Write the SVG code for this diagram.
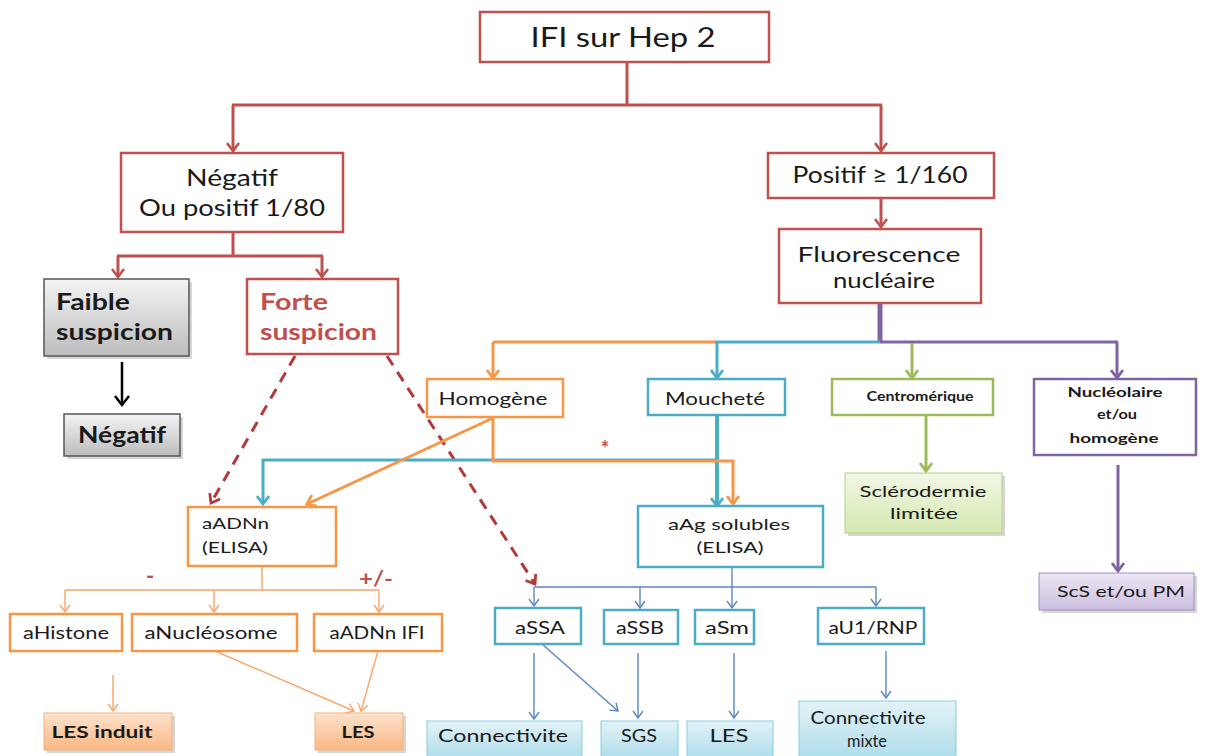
<svg xmlns="http://www.w3.org/2000/svg" width="1206" height="756" viewBox="0 0 1206 756">
<style>
text{font-family:Lato,"Open Sans","Liberation Sans",sans-serif;fill:#1a1a1a;text-anchor:middle}
.b{font-weight:bold}
.box{fill:#fff;stroke-width:2.5}
.r{stroke:#c0504d}.o{stroke:#f79646}.bl{stroke:#4bacc6}.g{stroke:#9bbb59}.p{stroke:#8064a2}
.sh{fill:#bbb;opacity:.6}
</style>
<defs>
<linearGradient id="gGray" x1="0" y1="0" x2="0" y2="1"><stop offset="0" stop-color="#f4f4f4"/><stop offset="1" stop-color="#bcbcbc"/></linearGradient>
<linearGradient id="gOr" x1="0" y1="0" x2="0" y2="1"><stop offset="0" stop-color="#fde3cc"/><stop offset="1" stop-color="#f9b784"/></linearGradient>
<linearGradient id="gBl" x1="0" y1="0" x2="0" y2="1"><stop offset="0" stop-color="#e3f3f8"/><stop offset="1" stop-color="#aedcea"/></linearGradient>
<linearGradient id="gGr" x1="0" y1="0" x2="0" y2="1"><stop offset="0" stop-color="#f2f8e6"/><stop offset="1" stop-color="#d5e8b0"/></linearGradient>
<linearGradient id="gPu" x1="0" y1="0" x2="0" y2="1"><stop offset="0" stop-color="#ede7f4"/><stop offset="1" stop-color="#cdbfe0"/></linearGradient>
<marker id="aR" viewBox="0 0 14 14" refX="12" refY="7" markerWidth="14" markerHeight="14" markerUnits="userSpaceOnUse" orient="auto"><path d="M4,1 L12,7 L4,13" fill="none" stroke="#c0504d" stroke-width="2.6"/></marker>
<marker id="aK" viewBox="0 0 16 16" refX="14" refY="8" markerWidth="16" markerHeight="16" markerUnits="userSpaceOnUse" orient="auto"><path d="M5,1 L14,8 L5,15" fill="none" stroke="#000" stroke-width="2.5"/></marker>
<marker id="aO" viewBox="0 0 14 14" refX="12" refY="7" markerWidth="14" markerHeight="14" markerUnits="userSpaceOnUse" orient="auto"><path d="M4,1 L12,7 L4,13" fill="none" stroke="#f79646" stroke-width="2.8"/></marker>
<marker id="aB" viewBox="0 0 14 14" refX="12" refY="7" markerWidth="14" markerHeight="14" markerUnits="userSpaceOnUse" orient="auto"><path d="M4,1 L12,7 L4,13" fill="none" stroke="#4bacc6" stroke-width="2.8"/></marker>
<marker id="aG" viewBox="0 0 14 14" refX="12" refY="7" markerWidth="14" markerHeight="14" markerUnits="userSpaceOnUse" orient="auto"><path d="M4,1 L12,7 L4,13" fill="none" stroke="#9bbb59" stroke-width="2.8"/></marker>
<marker id="aP" viewBox="0 0 14 14" refX="12" refY="7" markerWidth="14" markerHeight="14" markerUnits="userSpaceOnUse" orient="auto"><path d="M4,1 L12,7 L4,13" fill="none" stroke="#8064a2" stroke-width="2.8"/></marker>
<marker id="aRd" viewBox="0 0 14 14" refX="12" refY="7" markerWidth="14" markerHeight="14" markerUnits="userSpaceOnUse" orient="auto"><path d="M4,1 L12,7 L4,13" fill="none" stroke="#b23a3a" stroke-width="2.8"/></marker>
<marker id="aOt" viewBox="0 0 12 12" refX="11" refY="6" markerWidth="12" markerHeight="12" markerUnits="userSpaceOnUse" orient="auto"><path d="M4,1 L11,6 L4,11" fill="none" stroke="#f7a56a" stroke-width="1.4"/></marker>
<marker id="aBt" viewBox="0 0 12 12" refX="11" refY="6" markerWidth="12" markerHeight="12" markerUnits="userSpaceOnUse" orient="auto"><path d="M4,1 L11,6 L4,11" fill="none" stroke="#5b86c4" stroke-width="1.4"/></marker>
</defs>

<g id="connectors">
<g stroke="#c0504d" stroke-width="3" fill="none">
<path d="M627 62 V105 M232 105 H882"/>
<path d="M233 105 V151" marker-end="url(#aR)"/>
<path d="M881 105 V151" marker-end="url(#aR)"/>
<path d="M881 198 V227" marker-end="url(#aR)"/>
<path d="M233 232 V256 M117 256 H323"/>
<path d="M118 256 V277" marker-end="url(#aR)"/>
<path d="M322 256 V277" marker-end="url(#aR)"/>
</g>
<path d="M122 362 V405" stroke="#000" stroke-width="2.5" fill="none" marker-end="url(#aK)"/>
<g stroke="#b23a3a" stroke-width="3" fill="none" stroke-dasharray="11 8">
<path d="M295 356 L211 503" marker-end="url(#aRd)"/>
<path d="M387 356 L535 584" marker-end="url(#aRd)"/>
</g>
<path d="M880 303 V342" stroke="#8064a2" stroke-width="5" fill="none"/>
<path d="M493 342 H715" stroke="#f79646" stroke-width="3" fill="none"/>
<path d="M493 342 V378" stroke="#f79646" stroke-width="3" fill="none" marker-end="url(#aO)"/>
<path d="M715 342 H880" stroke="#4bacc6" stroke-width="3" fill="none"/>
<path d="M717 342 V378" stroke="#4bacc6" stroke-width="3" fill="none" marker-end="url(#aB)"/>
<path d="M880 342 H1118" stroke="#8064a2" stroke-width="3" fill="none"/>
<path d="M912 343 V378" stroke="#9bbb59" stroke-width="3" fill="none" marker-end="url(#aG)"/>
<path d="M1117 342 V378" stroke="#8064a2" stroke-width="3" fill="none" marker-end="url(#aP)"/>
<path d="M717 460 H263 V504" stroke="#4bacc6" stroke-width="3" fill="none" marker-end="url(#aB)"/>
<path d="M717 415 V506" stroke="#4bacc6" stroke-width="4" fill="none" marker-end="url(#aB)"/>
<path d="M493 417 V461 H733 V504" stroke="#f79646" stroke-width="3" fill="none" marker-end="url(#aO)"/>
<path d="M493 418 L307 504" stroke="#f79646" stroke-width="3" fill="none" marker-end="url(#aO)"/>
<path d="M926 415 V471" stroke="#9bbb59" stroke-width="3" fill="none" marker-end="url(#aG)"/>
<path d="M1118 465 V571" stroke="#8064a2" stroke-width="3" fill="none" marker-end="url(#aP)"/>
<g stroke="#f7a56a" stroke-width="1.4" fill="none">
<path d="M262 566 V590 M65 590 H379"/>
<path d="M65 590 V612" marker-end="url(#aOt)"/>
<path d="M214 590 V612" marker-end="url(#aOt)"/>
<path d="M379 590 V612" marker-end="url(#aOt)"/>
<path d="M113 675 V711" marker-end="url(#aOt)"/>
<path d="M215 651 L354 711" marker-end="url(#aOt)"/>
<path d="M378 651 L361 711" marker-end="url(#aOt)"/>
</g>
<g stroke="#5b86c4" stroke-width="1.4" fill="none">
<path d="M732 567 V587 M534 587 H876"/>
<path d="M534 587 V606" marker-end="url(#aBt)"/>
<path d="M640 587 V608" marker-end="url(#aBt)"/>
<path d="M732 587 V608" marker-end="url(#aBt)"/>
<path d="M876 587 V606" marker-end="url(#aBt)"/>
<path d="M534 653 V719" marker-end="url(#aBt)"/>
<path d="M542 644 L618 711" marker-end="url(#aBt)"/>
<path d="M638 653 V718" marker-end="url(#aBt)"/>
<path d="M734 653 V718" marker-end="url(#aBt)"/>
<path d="M886 651 V698" marker-end="url(#aBt)"/>
</g>
</g>

<g id="labels">
<text x="605" y="456" class="b" style="fill:#c0504d;font-size:20px">*</text>
<text x="150" y="584" class="b" style="fill:#c0504d;font-size:22px">-</text>
<text x="376" y="586" class="b" style="fill:#c0504d;font-size:20px" textLength="34" lengthAdjust="spacingAndGlyphs">+/-</text>
</g>

<g id="n-ifi"><rect class="box r" x="480" y="12" width="289" height="50"/><text x="623" y="47" style="font-size:26px" textLength="185" lengthAdjust="spacingAndGlyphs">IFI sur Hep 2</text></g>
<g id="n-negatif"><rect class="box r" x="121" y="153" width="222" height="79"/><text x="232" y="186" style="font-size:23px" textLength="92" lengthAdjust="spacingAndGlyphs">Négatif</text><text x="232" y="216" style="font-size:23px" textLength="186" lengthAdjust="spacingAndGlyphs">Ou positif 1/80</text></g>
<g id="n-positif"><rect class="box r" x="768" y="153" width="226" height="45"/><text x="880" y="183" style="font-size:24px" textLength="175" lengthAdjust="spacingAndGlyphs">Positif ≥ 1/160</text></g>
<g id="n-fluo"><rect class="box r" x="779" y="229" width="202" height="74"/><text x="879" y="262" style="font-size:21px" textLength="163" lengthAdjust="spacingAndGlyphs">Fluorescence</text><text x="884" y="288" style="font-size:21px" textLength="102" lengthAdjust="spacingAndGlyphs">nucléaire</text></g>
<g id="n-faible"><rect class="sh" x="47" y="282" width="145" height="77"/><rect x="44" y="279" width="145" height="77" fill="url(#gGray)" stroke="#555" stroke-width="1.5"/><text x="56" y="310" class="b" style="font-size:23px;text-anchor:start" textLength="74" lengthAdjust="spacingAndGlyphs">Faible</text><text x="56" y="340" class="b" style="font-size:23px;text-anchor:start" textLength="117" lengthAdjust="spacingAndGlyphs">suspicion</text></g>
<g id="n-negatif2"><rect class="sh" x="67" y="417" width="116" height="42"/><rect x="64" y="414" width="116" height="42" fill="url(#gGray)" stroke="#555" stroke-width="1.5"/><text x="78" y="443" class="b" style="font-size:23px;text-anchor:start" textLength="88" lengthAdjust="spacingAndGlyphs">Négatif</text></g>
<g id="n-forte"><rect class="box r" x="247" y="279" width="151" height="75"/><text x="260" y="310" class="b" style="font-size:23px;fill:#c0504d;text-anchor:start" textLength="68" lengthAdjust="spacingAndGlyphs">Forte</text><text x="260" y="340" class="b" style="font-size:23px;fill:#c0504d;text-anchor:start" textLength="117" lengthAdjust="spacingAndGlyphs">suspicion</text></g>
<g id="n-homogene"><rect class="box o" x="427" y="379" width="136" height="38"/><text x="493" y="405" style="font-size:18px" textLength="109" lengthAdjust="spacingAndGlyphs">Homogène</text></g>
<g id="n-mouchete"><rect class="box bl" x="648" y="379" width="137" height="36"/><text x="715" y="405" style="font-size:18px" textLength="100" lengthAdjust="spacingAndGlyphs">Moucheté</text></g>
<g id="n-centro"><rect class="box g" x="832" y="379" width="161" height="36"/><text x="920" y="401" class="b" style="font-size:13px" textLength="107" lengthAdjust="spacingAndGlyphs">Centromérique</text></g>
<g id="n-nucleo"><rect class="box p" x="1034" y="379" width="162" height="76"/><text x="1115" y="397" class="b" style="font-size:12.5px" textLength="95" lengthAdjust="spacingAndGlyphs">Nucléolaire</text><text x="1117" y="419" class="b" style="font-size:12.5px" textLength="40" lengthAdjust="spacingAndGlyphs">et/ou</text><text x="1114" y="443" class="b" style="font-size:12.5px" textLength="89" lengthAdjust="spacingAndGlyphs">homogène</text></g>
<g id="n-sclero"><rect class="sh" x="848" y="476" width="157" height="60"/><rect x="845" y="473" width="157" height="60" fill="url(#gGr)" stroke="#b5cf87" stroke-width="1"/><text x="923" y="497" style="font-size:16px" textLength="127" lengthAdjust="spacingAndGlyphs">Sclérodermie</text><text x="924" y="519" style="font-size:16px" textLength="68" lengthAdjust="spacingAndGlyphs">limitée</text></g>
<g id="n-scs"><rect class="sh" x="1042" y="576" width="155" height="37"/><rect x="1039" y="573" width="155" height="37" fill="url(#gPu)" stroke="#a08cc0" stroke-width="1"/><text x="1121" y="597" style="font-size:16px" textLength="128" lengthAdjust="spacingAndGlyphs">ScS et/ou PM</text></g>
<g id="n-aadnn"><rect class="box o" x="188" y="507" width="148" height="59"/><text x="202" y="529" style="font-size:15px;text-anchor:start" textLength="67" lengthAdjust="spacingAndGlyphs">aADNn</text><text x="202" y="553" style="font-size:15px;text-anchor:start" textLength="66" lengthAdjust="spacingAndGlyphs">(ELISA)</text></g>
<g id="n-aag"><rect class="box bl" x="638" y="506" width="185" height="61"/><text x="729" y="530" style="font-size:16px" textLength="122" lengthAdjust="spacingAndGlyphs">aAg solubles</text><text x="730" y="553" style="font-size:16px" textLength="67" lengthAdjust="spacingAndGlyphs">(ELISA)</text></g>
<g id="n-ahistone"><rect class="box o" x="10" y="614" width="112" height="37"/><text x="66" y="639" style="font-size:17px" textLength="86" lengthAdjust="spacingAndGlyphs">aHistone</text></g>
<g id="n-anucleo"><rect class="box o" x="132" y="614" width="165" height="37"/><text x="211" y="639" style="font-size:17px" textLength="133" lengthAdjust="spacingAndGlyphs">aNucléosome</text></g>
<g id="n-aadnnifi"><rect class="box o" x="314" y="614" width="128" height="37"/><text x="377" y="639" style="font-size:17px" textLength="95" lengthAdjust="spacingAndGlyphs">aADNn IFI</text></g>
<g id="n-lesinduit"><rect class="sh" x="47" y="716" width="128" height="37"/><rect x="44" y="713" width="128" height="37" fill="url(#gOr)" stroke="#f5b07c" stroke-width="1"/><text x="102" y="738" class="b" style="font-size:17px" textLength="101" lengthAdjust="spacingAndGlyphs">LES induit</text></g>
<g id="n-les1"><rect class="sh" x="318" y="716" width="88" height="37"/><rect x="315" y="713" width="88" height="37" fill="url(#gOr)" stroke="#f5b07c" stroke-width="1"/><text x="358" y="738" class="b" style="font-size:17px" textLength="33" lengthAdjust="spacingAndGlyphs">LES</text></g>
<g id="n-assa"><rect class="box bl" x="495" y="608" width="86" height="36"/><text x="540" y="634" style="font-size:17px" textLength="50" lengthAdjust="spacingAndGlyphs">aSSA</text></g>
<g id="n-assb"><rect class="box bl" x="604" y="610" width="74" height="34"/><text x="640" y="634" style="font-size:17px" textLength="48" lengthAdjust="spacingAndGlyphs">aSSB</text></g>
<g id="n-asm"><rect class="box bl" x="695" y="610" width="59" height="34"/><text x="727" y="634" style="font-size:17px" textLength="44" lengthAdjust="spacingAndGlyphs">aSm</text></g>
<g id="n-au1"><rect class="box bl" x="818" y="608" width="106" height="36"/><text x="873" y="634" style="font-size:17px" textLength="89" lengthAdjust="spacingAndGlyphs">aU1/RNP</text></g>
<g id="n-connect"><rect x="427" y="721" width="155" height="38" fill="url(#gBl)" stroke="#8ccbe0" stroke-width="1"/><text x="503" y="742" style="font-size:18px" textLength="130" lengthAdjust="spacingAndGlyphs">Connectivite</text></g>
<g id="n-sgs"><rect x="601" y="721" width="77" height="38" fill="url(#gBl)" stroke="#8ccbe0" stroke-width="1"/><text x="639" y="742" style="font-size:18px" textLength="36" lengthAdjust="spacingAndGlyphs">SGS</text></g>
<g id="n-les2"><rect x="687" y="721" width="86" height="38" fill="url(#gBl)" stroke="#8ccbe0" stroke-width="1"/><text x="729" y="742" style="font-size:18px" textLength="39" lengthAdjust="spacingAndGlyphs">LES</text></g>
<g id="n-mixte"><rect x="799" y="701" width="157" height="58" fill="url(#gBl)" stroke="#8ccbe0" stroke-width="1"/><text x="868" y="724" style="font-size:17px" textLength="115" lengthAdjust="spacingAndGlyphs">Connectivite</text><text x="867" y="747" style="font-size:17px" textLength="40" lengthAdjust="spacingAndGlyphs">mixte</text></g>
</svg>
